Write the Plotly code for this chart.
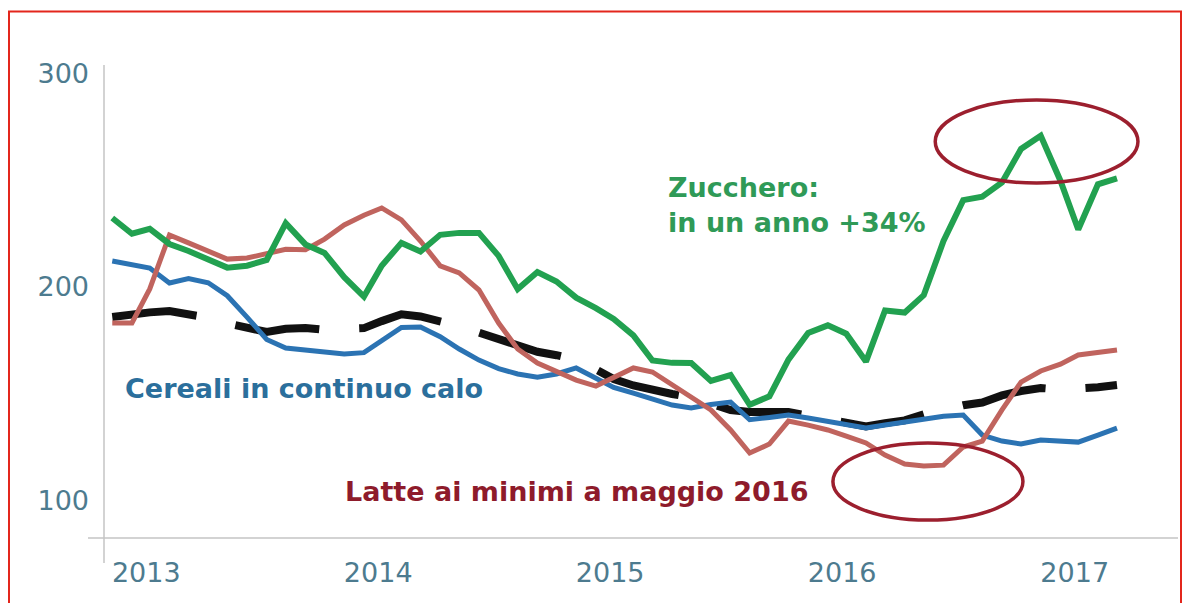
import pandas as pd
import plotly.graph_objects as go

# monthly index values, Jan 2013 - May 2017
months = pd.date_range("2013-01-01", "2017-05-01", freq="MS")
years = ["2013", "2014", "2015", "2016", "2017"]

zucchero = [232.4, 225.0, 227.3, 220.2, 216.9, 213.3, 209.1, 210.0, 212.7, 230.0,
            220.0, 216.0, 204.6, 195.5, 210.0, 220.7, 216.7, 224.5, 225.4, 225.4,
            214.6, 199.0, 207.0, 202.6, 195.0, 190.1, 185.0, 177.3, 165.5, 164.4,
            164.3, 155.9, 158.7, 144.7, 148.7, 165.9, 178.4, 182.0, 178.1, 165.0,
            189.0, 188.0, 196.2, 221.6, 240.8, 242.4, 249.1, 264.8, 271.0, 249.9,
            227.0, 248.2, 251.0]
latte = [183.1, 183.1, 199.1, 224.4, 220.7, 217.1, 213.1, 213.6, 215.6, 217.7,
         217.5, 222.5, 229.1, 233.7, 237.1, 231.5, 221.6, 209.9, 206.6, 198.6,
         183.1, 170.9, 164.3, 160.1, 156.3, 153.5, 157.3, 162.0, 160.1, 154.0,
         147.9, 142.3, 132.9, 122.1, 126.3, 137.1, 135.2, 132.9, 130.0, 126.8,
         121.1, 116.9, 116.0, 116.4, 124.9, 127.7, 142.3, 155.4, 160.6, 163.8,
         168.1, 169.5, 170.4]
cereali = [212.2, 210.6, 208.9, 201.9, 204.0, 202.0, 195.9, 185.9, 175.4, 171.4,
           170.4, 169.3, 168.6, 169.2, 174.8, 181.0, 181.2, 176.7, 170.9, 165.7,
           161.7, 159.2, 157.7, 159.2, 162.0, 157.5, 152.9, 150.2, 147.4, 144.6,
           143.2, 144.9, 146.0, 137.7, 138.8, 139.9, 138.5, 137.1, 135.7, 133.8,
           135.2, 136.6, 138.0, 139.3, 139.9, 130.5, 127.7, 126.3, 128.2, 127.7,
           127.2, 130.5, 133.8]
indice = [185.9, 187.3, 188.1, 188.7, 187.5, 185.6, 182.9, 180.6, 178.9, 180.4,
          180.8, 179.9, 180.3, 180.7, 184.0, 187.2, 186.2, 184.2, 181.5, 178.6,
          175.4, 172.0, 169.6, 168.0, 165.9, 161.3, 156.8, 153.8, 151.6, 149.8,
          148.2, 145.4, 142.3, 141.3, 141.3, 141.3, 139.6, 137.7, 135.8, 134.6,
          136.1, 137.4, 140.2, 142.8, 144.5, 145.8, 149.1, 151.2, 152.6, 151.9,
          152.1, 153.0, 154.0]

# the page body has an 8px margin, so the figure sits at (8, 8) in the window
OFF = 8
W, H = 1190 - OFF, 603 - OFF
# plot area edges, in window pixels
L, R, T, B = 104, 1178, 65, 538
TICK = "#4d7b8f"
FONT = "DejaVu Sans"


def px(x):
    return (x - L) / (R - L)


def py(y):
    return (B - y) / (B - T)


fig = go.Figure()
series = [
    ("Indice", indice, "#111111", 8, "85px,40px"),
    ("Cereali", cereali, "#2b73b3", 5, "solid"),
    ("Latte", latte, "#c0645e", 5, "solid"),
    ("Zucchero", zucchero, "#22a150", 6, "solid"),
]
for name, vals, color, width, dash in series:
    fig.add_trace(go.Scatter(x=months, y=vals, mode="lines", name=name,
                             line=dict(color=color, width=width, dash=dash)))

shapes = [
    # axis lines (they overhang a bit, like the original)
    dict(type="line", xref="paper", yref="paper", x0=px(88), x1=px(1178),
         y0=py(538), y1=py(538), line=dict(color="#c4c4c4", width=1.5)),
    dict(type="line", xref="paper", yref="paper", x0=px(104), x1=px(104),
         y0=py(563), y1=py(65), line=dict(color="#c4c4c4", width=1.5)),
    # red frame
    dict(type="rect", xref="paper", yref="paper", x0=px(9), x1=px(1181),
         y0=py(640), y1=py(11.5), line=dict(color="#e3261c", width=2)),
    # highlight ellipses
    dict(type="circle", xref="x", yref="y", x0="2016-07-19", x1="2017-06-03",
         y0=248.8, y1=287.8, line=dict(color="#9c1f2e", width=3.5)),
    dict(type="circle", xref="x", yref="y", x0="2016-02-09", x1="2016-12-04",
         y0=90.6, y1=126.8, line=dict(color="#9c1f2e", width=3.5)),
]

annotations = [
    dict(text="<b>Zucchero:<br>in un anno +34%</b>", x=px(666), y=py(170),
         xanchor="left", yanchor="top", align="left",
         font=dict(family=FONT, size=27, color="#2f9a57")),
    dict(text="<b>Cereali in continuo calo</b>", x=px(121), y=py(388),
         xanchor="left", yanchor="middle", bgcolor="white", borderpad=3,
         font=dict(family=FONT, size=27, color="#2b6f9c")),
    dict(text="<b>Latte ai minimi a maggio 2016</b>", x=px(343), y=py(491),
         xanchor="left", yanchor="middle",
         font=dict(family=FONT, size=27, color="#8e1b2b")),
]
for a in annotations:
    a.update(xref="paper", yref="paper", showarrow=False)

fig.update_layout(
    width=W, height=H,
    margin=dict(l=L - OFF, r=W - (R - OFF), t=T - OFF, b=H - (B - OFF), pad=0),
    paper_bgcolor="white", plot_bgcolor="white",
    showlegend=False,
    shapes=shapes, annotations=annotations,
    xaxis=dict(type="date", range=["2012-12-19", "2017-08-05"],
               tickvals=[f"{y}-01-01" for y in years], ticktext=years,
               showgrid=False, zeroline=False, showline=False, ticks="",
               ticklabelshift=34, ticklabelstandoff=16,
               tickfont=dict(family=FONT, size=27, color=TICK)),
    yaxis=dict(range=[82.2, 304.2], tickvals=[100, 200, 300],
               showgrid=False, zeroline=False, showline=False, ticks="",
               ticklabelstandoff=14,
               tickfont=dict(family=FONT, size=27, color=TICK)),
)

fig.write_html("out.html")
